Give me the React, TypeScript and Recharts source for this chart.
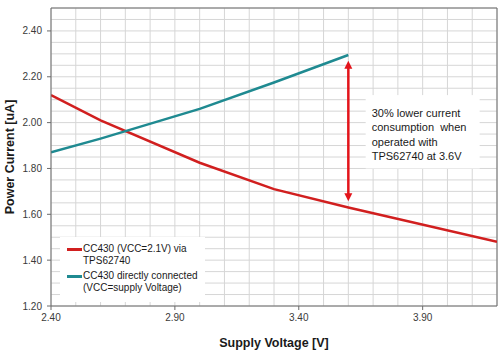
import React from 'react';
import {
  LineChart,
  Line,
  XAxis,
  YAxis,
  CartesianGrid,
  Legend,
  ReferenceLine,
  ReferenceArea,
} from 'recharts';

// supply voltage [V] / power current [uA]
const viaTpsVolts = [2.4, 2.6, 3.0, 3.3, 3.6, 4.2];
const viaTpsCurrent = [2.12, 2.01, 1.825, 1.71, 1.63, 1.48];
const directVolts = [2.4, 2.6, 3.0, 3.3, 3.6];
const directCurrent = [1.87, 1.93, 2.06, 2.175, 2.295];

const xTicks = [2.4, 2.9, 3.4, 3.9];
const yTicks = [1.2, 1.4, 1.6, 1.8, 2.0, 2.2, 2.4];
const gridX = [2.4, 2.5, 2.6, 2.7, 2.8, 2.9, 3.0, 3.1, 3.2, 3.3, 3.4, 3.5, 3.6, 3.7, 3.8, 3.9, 4.0, 4.1, 4.2];
const gridY = [1.2, 1.25, 1.3, 1.35, 1.4, 1.45, 1.5, 1.55, 1.6, 1.65, 1.7, 1.75, 1.8, 1.85, 1.9, 1.95, 2.0, 2.05, 2.1, 2.15, 2.2, 2.25, 2.3, 2.35, 2.4, 2.45, 2.5];

const annotationLines = ['30% lower current', 'consumption  when', 'operated with', 'TPS62740 at 3.6V'];

const viaTpsData = viaTpsVolts.map((v, i) => ({ v, i: viaTpsCurrent[i] }));
const directData = directVolts.map((v, i) => ({ v, i: directCurrent[i] }));

const RED = '#d11f1f';
const TEAL = '#1f8a91';
const FRAME = '#6b6b6b';
const FONT = '"Liberation Sans", Arial, sans-serif';

const X_DOMAIN: [number, number] = [2.4, 4.2];
const Y_DOMAIN: [number, number] = [1.2, 2.5];

const DoubleArrow = (props: any) => {
  const { x1, y1, x2, y2 } = props;
  const top = Math.min(y1, y2);
  const bottom = Math.max(y1, y2);
  const x = (x1 + x2) / 2;
  const h = 8;
  const w = 4;
  return (
    <g>
      <line x1={x} y1={top + h - 1} x2={x} y2={bottom - h + 1} stroke="#e3141b" strokeWidth={2.5} />
      <polygon points={`${x},${top} ${x - w},${top + h} ${x + w},${top + h}`} fill="#e3141b" />
      <polygon points={`${x},${bottom} ${x - w},${bottom - h} ${x + w},${bottom - h}`} fill="#e3141b" />
    </g>
  );
};

const NoteBox = (props: any) => {
  const { x, y, width, height } = props;
  return (
    <g>
      <rect x={x} y={y} width={width} height={height} fill="#ffffff" />
      {annotationLines.map((t, k) => (
        <text
          key={k}
          x={x + 6}
          y={y + 22 + k * 14.3}
          fontSize={11}
          fontFamily={FONT}
          fill="#1a1a1a"
          style={{ whiteSpace: 'pre' }}
        >
          {t}
        </text>
      ))}
    </g>
  );
};

const LegendBox = (props: any) => {
  const { payload } = props;
  return (
    <div style={{ background: '#fff', width: 145, boxSizing: 'border-box', padding: '6px 0 8px 7px', fontFamily: FONT, fontSize: 10, color: '#1a1a1a', textAlign: 'left' }}>
      {(payload || []).map((p: any, k: number) => (
        <div key={k} style={{ display: 'flex', alignItems: 'flex-start', marginTop: k ? 3 : 0, lineHeight: '12px' }}>
          <span style={{ display: 'inline-block', width: 15, height: 2.5, background: p.color, marginTop: 5, flexShrink: 0 }} />
          <span style={{ marginLeft: 1, width: 122 }}>{p.value}</span>
        </div>
      ))}
    </div>
  );
};

const scaleX = (gen: any, v: number) => {
  const { xAxis, offset } = gen;
  if (xAxis && typeof xAxis.scale === 'function') return xAxis.scale(v);
  return offset.left + (offset.width * (v - X_DOMAIN[0])) / (X_DOMAIN[1] - X_DOMAIN[0]);
};

const scaleY = (gen: any, v: number) => {
  const { yAxis, offset } = gen;
  if (yAxis && typeof yAxis.scale === 'function') return yAxis.scale(v);
  return offset.top + offset.height - (offset.height * (v - Y_DOMAIN[0])) / (Y_DOMAIN[1] - Y_DOMAIN[0]);
};

export default function App() {
  return (
    <div style={{ position: 'absolute', left: 0, top: 0, background: '#fff' }}>
      <LineChart width={500} height={355} margin={{ top: 8, right: 3, left: 0, bottom: 0 }}>
        <CartesianGrid
          stroke="#d6d6d6"
          strokeWidth={1}
          verticalCoordinatesGenerator={(g: any) => gridX.map((v) => scaleX(g, v))}
          horizontalCoordinatesGenerator={(g: any) => gridY.map((v) => scaleY(g, v))}
        />
        <XAxis
          type="number"
          dataKey="v"
          domain={X_DOMAIN}
          ticks={xTicks}
          allowDataOverflow
          tickFormatter={(v: number) => v.toFixed(2)}
          height={49}
          tickSize={4}
          tickMargin={4}
          stroke={FRAME}
          tick={{ fontSize: 10, fill: '#3a3a3a', fontFamily: FONT }}
          label={{
            content: (p: any) => {
              const vb = p.viewBox || { x: 51, y: 306, width: 446 };
              return (
                <text
                  x={vb.x + vb.width / 2}
                  y={vb.y + 41}
                  textAnchor="middle"
                  fontSize={12.5}
                  fontWeight="bold"
                  fontFamily={FONT}
                  fill="#1a1a1a"
                >
                  Supply Voltage [V]
                </text>
              );
            },
          }}
        />
        <YAxis
          type="number"
          domain={Y_DOMAIN}
          ticks={yTicks}
          allowDataOverflow
          tickFormatter={(v: number) => v.toFixed(2)}
          width={51}
          tickSize={4}
          tickMargin={5}
          stroke={FRAME}
          tick={{ fontSize: 10, fill: '#3a3a3a', fontFamily: FONT }}
          label={{
            content: (p: any) => {
              const vb = p.viewBox || { x: 0, y: 8, height: 298 };
              const cx = 10;
              const cy = vb.y + vb.height / 2;
              return (
                <text
                  x={cx}
                  y={cy}
                  transform={`rotate(-90 ${cx} ${cy})`}
                  textAnchor="middle"
                  dominantBaseline="central"
                  fontSize={12.5}
                  fontWeight="bold"
                  fontFamily={FONT}
                  fill="#1a1a1a"
                >
                  Power Current [uA]
                </text>
              );
            },
          }}
        />
        <ReferenceLine y={2.5} stroke={FRAME} strokeWidth={1} />
        <ReferenceLine x={4.2} stroke={FRAME} strokeWidth={1} />
        <ReferenceArea x1={3.67} x2={4.13} y1={1.8} y2={2.12} shape={NoteBox} />
        <Line
          data={viaTpsData}
          dataKey="i"
          name="CC430 (VCC=2.1V) via TPS62740"
          stroke={RED}
          strokeWidth={2.5}
          dot={false}
          type="linear"
          isAnimationActive={false}
        />
        <Line
          data={directData}
          dataKey="i"
          name="CC430 directly connected (VCC=supply Voltage)"
          stroke={TEAL}
          strokeWidth={2.5}
          dot={false}
          type="linear"
          isAnimationActive={false}
        />
        <ReferenceLine
          segment={[
            { x: 3.6, y: 2.27 },
            { x: 3.6, y: 1.657 },
          ]}
          shape={DoubleArrow}
        />
        <Legend
          layout="vertical"
          align="center"
          verticalAlign="middle"
          content={LegendBox}
          wrapperStyle={{ left: 60, top: 237, width: 145, right: 'auto', bottom: 'auto', margin: 0 }}
        />
      </LineChart>
    </div>
  );
}
